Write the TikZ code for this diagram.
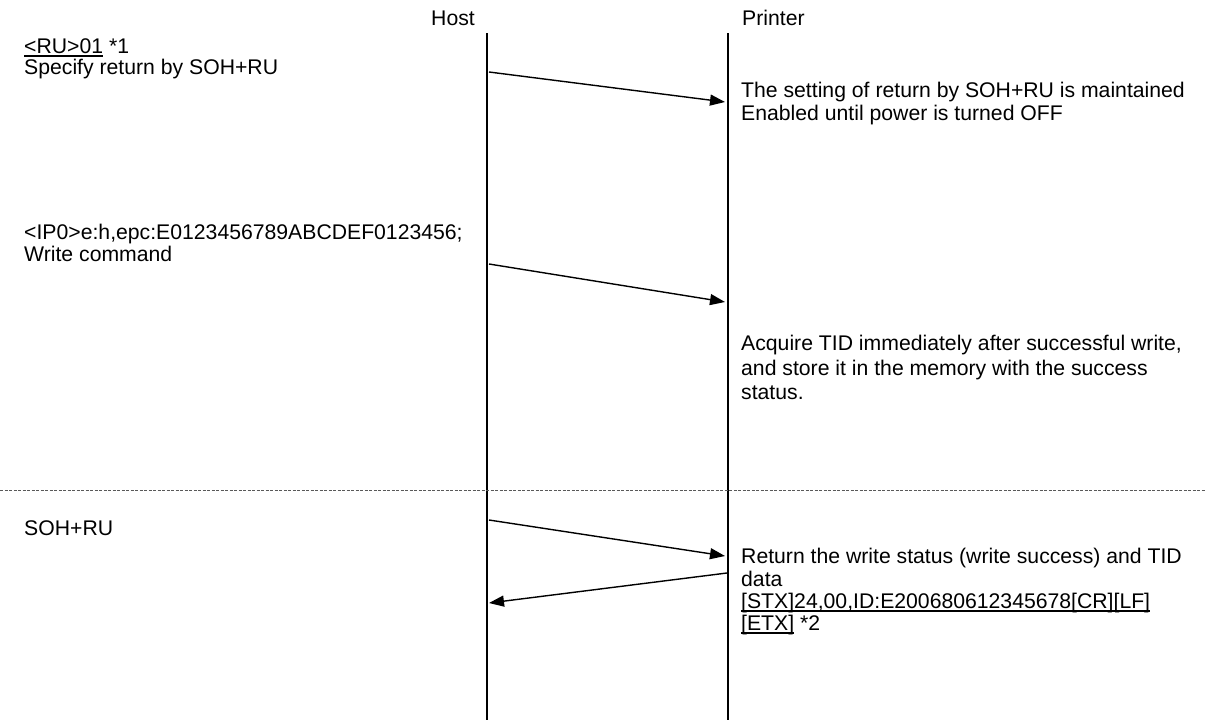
\documentclass[tikz,border=0pt]{standalone}
\usepackage{fontspec}
\setmainfont{Liberation Sans}
\newcommand{\myul}[1]{\setbox0=\hbox{#1}\rlap{\vrule width\wd0 height -2.2pt depth 3.5pt}\box0\relax}
\usetikzlibrary{arrows.meta}
\begin{document}
\begin{tikzpicture}[x=1pt,y=-1pt,
  txt/.style={anchor=base west,inner sep=0pt,font=\fontsize{21.2}{24}\selectfont},
  life/.style={line width=1.8pt},
  msg/.style={line width=1.4pt,-{Triangle[length=15pt,width=11pt]}},
  sep/.style={black!65,line width=0.8pt,dash pattern=on 3pt off 1.5pt}]
\useasboundingbox (0,0) rectangle (1205,720);
% headers
\node[txt,anchor=base] (host) at (453,25) {Host};
\node[txt] (printer) at (742,25) {Printer};
% lifelines
\coordinate (htop) at (487,33);
\coordinate (hbot) at (487,720);
\coordinate (ptop) at (728,33);
\coordinate (pbot) at (728,720);
\draw[life] (htop) -- (hbot);
\draw[life] (ptop) -- (pbot);
% separator
\coordinate (sepl) at (0,490);
\coordinate (sepr) at (1205,490);
\draw[sep] (sepl) -- (sepr);
% left texts
\node[txt] (ru1) at (24,53) {\myul{<RU>01} *1};
\node[txt] (ru2) at (24,74) {Specify return by SOH+RU};
\node[txt] (ip1) at (24,239) {<IP0>e:h,epc:E0123456789ABCDEF0123456;};
\node[txt] (ip2) at (24,261) {Write command};
\node[txt] (soh) at (24,535) {SOH+RU};
% right texts
\node[txt] (set1) at (741,97) {The setting of return by SOH+RU is maintained};
\node[txt] (set2) at (741,120) {Enabled until power is turned OFF};
\node[txt] (acq1) at (741,350) {Acquire TID immediately after successful write,};
\node[txt] (acq2) at (741,375) {and store it in the memory with the success};
\node[txt] (acq3) at (741,399) {status.};
\node[txt] (ret1) at (741,563) {Return the write status (write success) and TID};
\node[txt] (ret2) at (741,586) {data};
\node[txt] (ret3) at (741,608) {\myul{[STX]24,00,ID:E200680612345678[CR][LF]}};
\node[txt] (ret4) at (741,630) {\myul{[ETX]} *2};
% messages
\coordinate (m1s) at (489,72);
\coordinate (m1e) at (725,102);
\coordinate (m2s) at (489,264);
\coordinate (m2e) at (725,302);
\coordinate (m3s) at (489,520);
\coordinate (m3e) at (725,556);
\coordinate (m4s) at (727,573);
\coordinate (m4e) at (489,603);
\draw[msg] (m1s) -- (m1e);
\draw[msg] (m2s) -- (m2e);
\draw[msg] (m3s) -- (m3e);
\draw[msg] (m4s) -- (m4e);
\end{tikzpicture}
\end{document}
